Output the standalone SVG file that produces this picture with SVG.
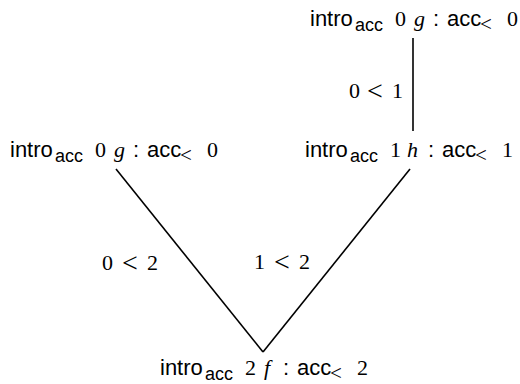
<svg xmlns="http://www.w3.org/2000/svg" width="520" height="384" viewBox="0 0 520 384">
<style>
.t{font-family:"Liberation Sans","DejaVu Sans",sans-serif;font-size:22px;fill:#000}
.s{font-size:18px}
.m{font-family:"Liberation Serif","DejaVu Serif",serif}
.r{font-size:21px}
.i{font-family:"Liberation Serif","DejaVu Serif",serif;font-style:italic}
.e{stroke:#000;stroke-width:1.6;fill:none}
.l{font-family:"Liberation Serif","DejaVu Serif",serif;font-size:22px;fill:#000}
.lt{font-size:28px}
</style>
<rect width="520" height="384" fill="#fff"/>
<g id="connectors">
<line class="e" x1="413" y1="38" x2="413" y2="131"/>
<line class="e" x1="116" y1="169" x2="263" y2="352"/>
<line class="e" x1="410" y1="169" x2="263" y2="352"/>
<text class="l" y="98"><tspan x="349">0</tspan><tspan class="lt" x="367" dy="1.5">&lt;</tspan><tspan x="392" dy="-1.5">1</tspan></text>
<text class="l" y="270"><tspan x="102">0</tspan><tspan class="lt" x="122" dy="1.5">&lt;</tspan><tspan x="147" dy="-1.5">2</tspan></text>
<text class="l" y="269"><tspan x="254">1</tspan><tspan class="lt" x="274" dy="1.5">&lt;</tspan><tspan x="299" dy="-1.5">2</tspan></text>
</g>
<g id="n_top" transform="translate(300,-131)">
<text class="t" y="157"><tspan x="10">intro</tspan><tspan class="s" x="55" dy="5">acc</tspan><tspan class="m" x="95" dy="-5">0</tspan><tspan class="i" x="114">g</tspan><tspan x="133">:</tspan><tspan x="147">acc</tspan><tspan class="m r" x="180" dy="5">&lt;</tspan><tspan class="m" x="207" dy="-5">0</tspan></text>
</g>
<g id="n_left">
<text class="t" y="157"><tspan x="10">intro</tspan><tspan class="s" x="55" dy="5">acc</tspan><tspan class="m" x="95" dy="-5">0</tspan><tspan class="i" x="114">g</tspan><tspan x="133">:</tspan><tspan x="147">acc</tspan><tspan class="m r" x="180" dy="5">&lt;</tspan><tspan class="m" x="207" dy="-5">0</tspan></text>
</g>
<g id="n_right" transform="translate(295,0)">
<text class="t" y="157"><tspan x="10">intro</tspan><tspan class="s" x="55" dy="5">acc</tspan><tspan class="m" x="95" dy="-5">1</tspan><tspan class="i" x="112">h</tspan><tspan x="133">:</tspan><tspan x="147">acc</tspan><tspan class="m r" x="180" dy="5">&lt;</tspan><tspan class="m" x="207" dy="-5">1</tspan></text>
</g>
<g id="n_bottom" transform="translate(150,218)">
<text class="t" y="157"><tspan x="10">intro</tspan><tspan class="s" x="55" dy="5">acc</tspan><tspan class="m" x="95" dy="-5">2</tspan><tspan class="i" x="114">f</tspan><tspan x="133">:</tspan><tspan x="147">acc</tspan><tspan class="m r" x="180" dy="5">&lt;</tspan><tspan class="m" x="207" dy="-5">2</tspan></text>
</g>
</svg>
